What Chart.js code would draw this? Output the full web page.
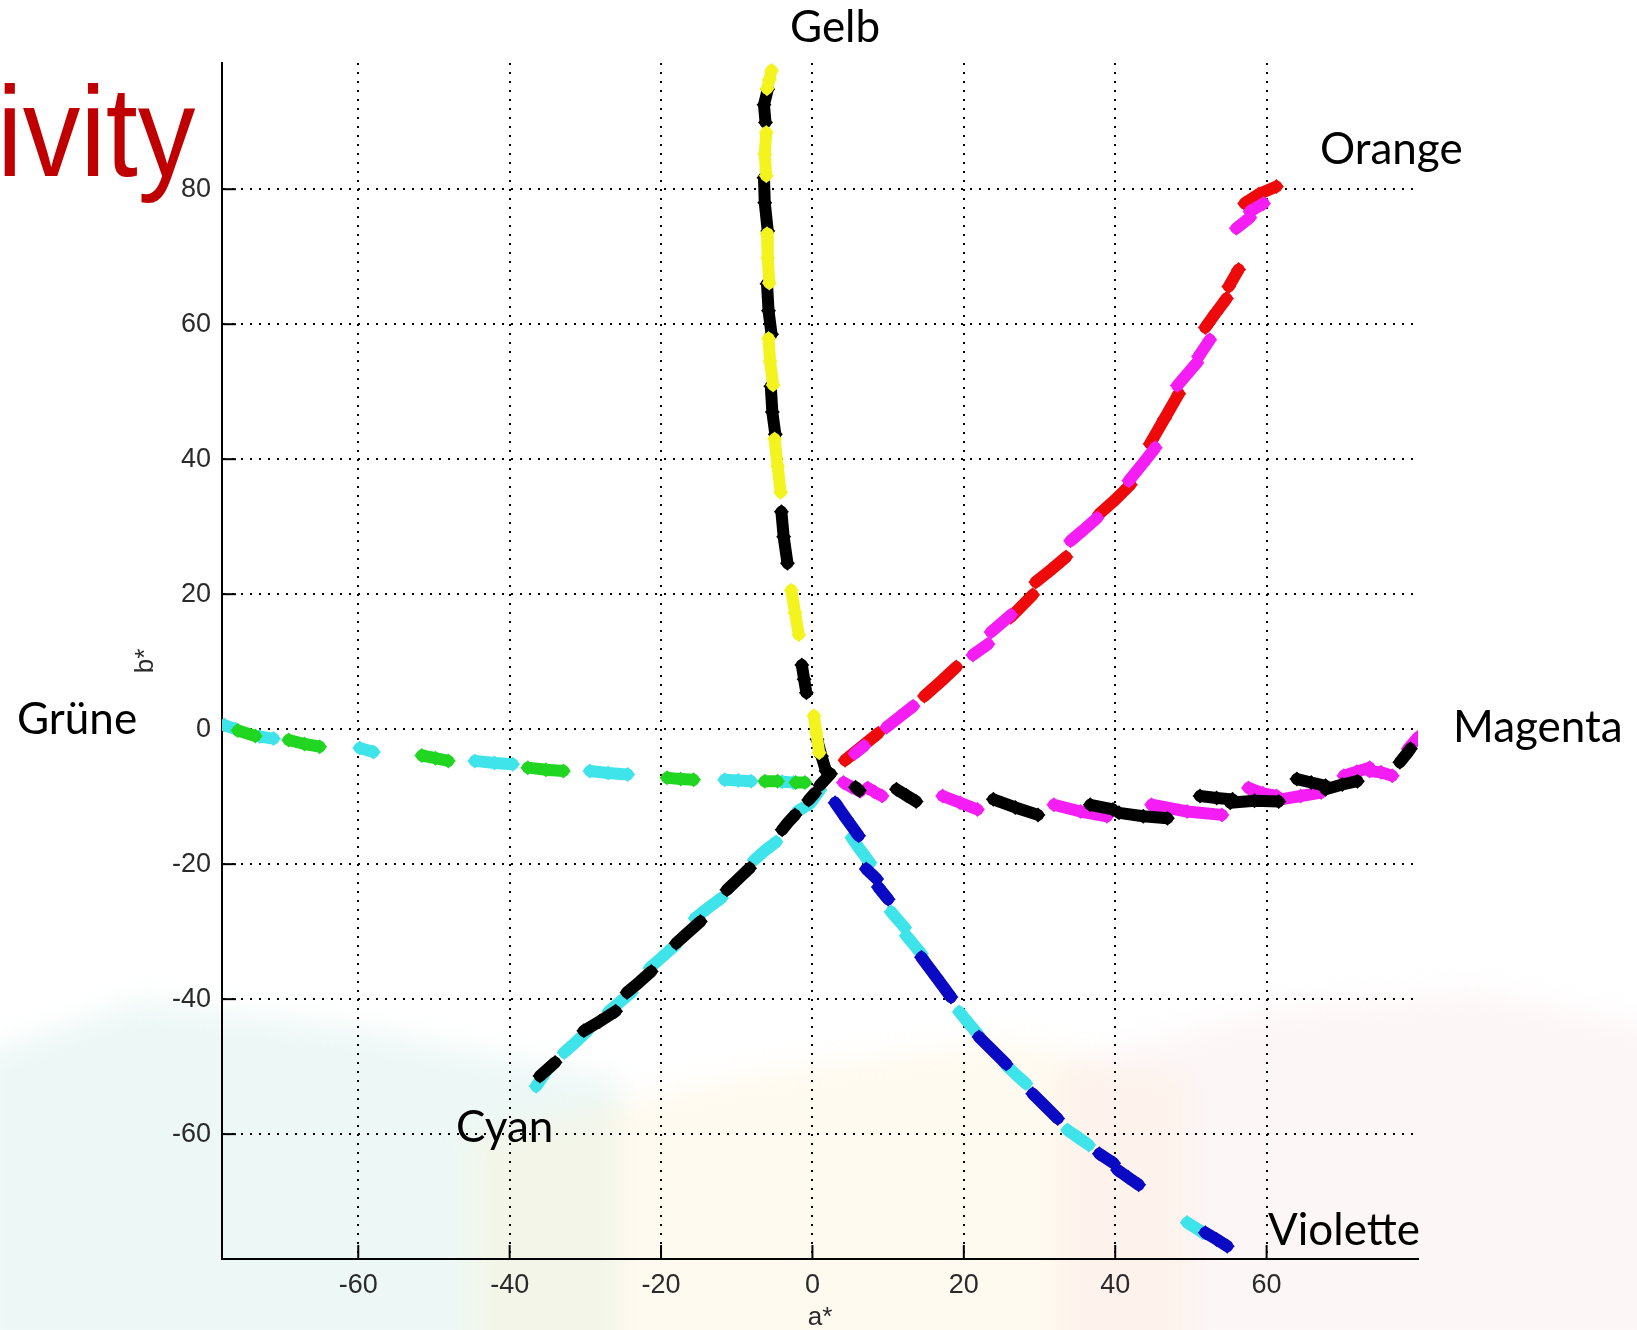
<!DOCTYPE html>
<html>
<head>
<meta charset="utf-8">
<script src="https://cdn.jsdelivr.net/npm/chart.js@4.4.1/dist/chart.umd.min.js"></script>
<style>
  html, body { margin: 0; padding: 0; background: #fff; }
  #page { position: relative; width: 1637px; height: 1330px; overflow: hidden; }
  #bgLayer { position: absolute; left: 0; top: 0; width: 1637px; height: 1330px; filter: blur(14px); }
  .bg { position: absolute; }
  #chartBox { position: absolute; left: 0; top: 0; width: 1637px; height: 1330px; }
  .lbl { position: absolute; font-family: Lato, "Open Sans", sans-serif; font-size: 44px; line-height: 1; color: #000; white-space: nowrap; }
  #title { position: absolute; right: 1442px; top: 68px; font-family: "Liberation Sans", sans-serif; font-size: 128px; line-height: 1; color: #c00000; white-space: nowrap; transform: scaleX(0.9); transform-origin: right center; }
</style>
</head>
<body>
<div id="page">
  <!-- blasse Hintergrundflächen unten -->
  <div id="bgLayer">
    <div class="bg" style="left:-20px;top:1000px;width:640px;height:360px;background:rgba(200,234,226,0.32);clip-path:polygon(0 15%,25% 0,60% 8%,100% 22%,100% 100%,0 100%);"></div>
    <div class="bg" style="left:470px;top:1040px;width:720px;height:320px;background:rgba(255,240,206,0.32);clip-path:polygon(0 30%,40% 10%,75% 0,100% 12%,100% 100%,0 100%);"></div>
    <div class="bg" style="left:1060px;top:990px;width:600px;height:370px;background:rgba(250,226,230,0.32);clip-path:polygon(0 20%,35% 5%,70% 0,100% 10%,100% 100%,0 100%);"></div>
  </div>
  <div id="chartBox"><canvas id="lab" width="1637" height="1330"></canvas></div>
  <div id="title">ivity</div>
  <div class="lbl" style="left:790px;top:3px;">Gelb</div>
  <div class="lbl" style="left:1320px;top:125px;">Orange</div>
  <div class="lbl" style="left:1453px;top:703px;">Magenta</div>
  <div class="lbl" style="left:17px;top:695px;">Grüne</div>
  <div class="lbl" style="left:456px;top:1103px;">Cyan</div>
  <div class="lbl" style="left:1268px;top:1206px;">Violette</div>
</div>
<script>
const xTickValues = [-60, -40, -20, 0, 20, 40, 60];
const yTickValues = [-60, -40, -20, 0, 20, 40, 60, 80];

// Gelb: gelb / schwarz
const gelbYellow = [
  [[-5.4, 97.6], [-5.7, 96.2], [-6.0, 94.9]],
  [[-6.1, 88.4], [-6.3, 85.2], [-6.1, 82.0]],
  [[-6.0, 73.4], [-5.9, 69.8], [-5.7, 66.1]],
  [[-5.8, 57.9], [-5.6, 54.5], [-5.2, 51.0]],
  [[-5.0, 43.0], [-4.6, 39.0], [-4.2, 35.1]],
  [[-2.8, 20.6], [-2.3, 17.3], [-1.8, 14.0]],
  [[0.2, 2.0], [0.5, -0.5], [0.9, -3.5]]
];
const gelbBlack = [
  [[-5.9, 94.8], [-6.4, 92.5], [-6.2, 89.9]],
  [[-6.4, 81.7], [-6.3, 78.0], [-5.9, 73.8]],
  [[-6.0, 66.0], [-5.8, 62.0], [-5.4, 58.5]],
  [[-5.5, 50.8], [-5.3, 47.0], [-4.9, 43.7]],
  [[-4.1, 32.2], [-3.8, 28.5], [-3.3, 24.6]],
  [[-1.4, 9.5], [-1.1, 7.4], [-0.8, 5.4]],
  [[0.6, -1.5], [1.2, -4.0], [1.8, -6.2]]
];

// Orange: rot / magenta
const orangeRed = [
  [[4.3, -4.6], [6.5, -2.6], [8.7, -0.6]],
  [[14.8, 4.9], [17.0, 7.1], [19.0, 9.2]],
  [[26.2, 16.6], [29.1, 19.9]],
  [[29.5, 21.8], [31.5, 23.6], [33.5, 25.5]],
  [[37.9, 31.9], [40.0, 34.0], [42.0, 36.2]],
  [[44.6, 42.3], [46.5, 46.0], [48.4, 49.7]],
  [[51.9, 59.5], [53.3, 61.7], [54.7, 63.8]],
  [[55.0, 65.6], [56.3, 68.1]],
  [[57.1, 77.9], [59.0, 79.3], [61.3, 80.4]]
];
const orangeMagenta = [
  [[5.6, -3.6], [6.8, -2.5]],
  [[9.8, 0.3], [11.6, 1.9], [13.3, 3.4]],
  [[21.2, 11.0], [23.2, 12.6]],
  [[23.6, 14.4], [26.2, 16.9]],
  [[34.1, 27.9], [35.9, 29.6], [37.6, 31.3]],
  [[41.8, 36.8], [43.6, 39.3], [45.3, 41.7]],
  [[48.2, 50.9], [50.8, 54.3]],
  [[51.0, 55.2], [52.5, 57.7]],
  [[56.0, 74.2], [57.8, 75.8]],
  [[57.8, 76.7], [59.6, 77.9]]
];

// Magenta: magenta / schwarz
const magentaMagenta = [
  [[4.1, -7.9], [5.2, -8.6], [6.3, -9.2]],
  [[7.3, -8.7], [8.2, -9.3], [9.2, -9.9]],
  [[17.2, -9.9], [19.5, -10.9], [21.8, -11.9]],
  [[31.9, -11.2], [35.4, -12.2], [38.9, -12.9]],
  [[44.8, -11.2], [49.5, -12.2], [54.1, -12.7]],
  [[57.6, -8.7], [59.5, -9.5], [61.3, -9.9]],
  [[61.9, -10.4], [64.5, -9.9], [67.2, -9.4]],
  [[70.2, -6.9], [71.9, -6.3], [73.6, -5.7]],
  [[73.6, -6.2], [75.1, -6.4], [76.6, -6.9]],
  [[78.7, -2.9], [79.4, -2.0], [80.0, -1.2]]
];
const magentaBlack = [
  [[5.7, -8.6], [6.2, -9.1]],
  [[11.1, -8.9], [12.4, -9.8], [13.7, -10.7]],
  [[23.9, -10.4], [26.8, -11.6], [29.8, -12.7]],
  [[36.7, -11.2], [39.7, -11.9]],
  [[40.5, -12.4], [43.7, -12.9], [46.9, -13.2]],
  [[51.2, -9.9], [53.4, -10.2], [55.5, -10.4]],
  [[55.2, -10.9], [58.4, -10.6], [61.6, -10.7]],
  [[64.0, -7.4], [65.9, -7.9], [67.8, -8.4]],
  [[67.8, -8.9], [70.0, -8.2], [72.0, -7.7]],
  [[77.6, -4.9], [78.4, -3.8], [79.0, -2.9]]
];

// Grüne: grün / cyan
const grueneGreen = [
  [[-75.9, -0.2], [-73.6, -1.0]],
  [[-69.2, -1.6], [-67.1, -2.2], [-65.1, -2.6]],
  [[-51.6, -3.9], [-49.8, -4.3], [-48.1, -4.7]],
  [[-37.6, -5.7], [-35.2, -6.0], [-32.9, -6.2]],
  [[-19.2, -7.2], [-17.4, -7.4], [-15.7, -7.5]],
  [[-6.3, -7.7], [-4.6, -7.7]],
  [[-2.2, -7.9], [-1.0, -7.9]]
];
const grueneCyan = [
  [[-77.7, 0.6], [-76.2, 0.0]],
  [[-73.0, -1.1], [-71.2, -1.4]],
  [[-59.8, -2.8], [-58.0, -3.4]],
  [[-44.6, -4.7], [-42.0, -5.0], [-39.6, -5.2]],
  [[-29.4, -6.2], [-27.0, -6.5], [-24.4, -6.7]],
  [[-11.6, -7.5], [-9.8, -7.6], [-8.1, -7.7]],
  [[-4.0, -7.8], [-2.5, -7.9]]
];

// Cyan: cyan / schwarz
const cyanCyan = [
  [[1.0, -9.0], [-0.3, -11.0], [-2.0, -12.2]],
  [[-4.8, -16.7], [-6.3, -18.0], [-7.7, -19.4]],
  [[-12.0, -25.0], [-13.8, -26.5], [-15.5, -28.0]],
  [[-18.0, -31.9], [-19.8, -33.7], [-21.5, -35.4]],
  [[-23.9, -39.0], [-25.4, -40.4], [-26.9, -41.8]],
  [[-29.7, -44.7], [-31.2, -46.3], [-32.8, -47.9]],
  [[-35.4, -51.1], [-36.5, -52.9]]
];
const cyanBlack = [
  [[2.4, -6.6], [1.0, -8.3]],
  [[0.3, -9.5], [-0.5, -10.5]],
  [[-2.3, -12.7], [-3.2, -13.8], [-4.0, -14.9]],
  [[-8.3, -20.6], [-9.8, -22.2], [-11.3, -23.8]],
  [[-14.8, -28.5], [-16.4, -30.1], [-18.0, -31.7]],
  [[-21.3, -35.9], [-22.9, -37.5], [-24.5, -39.0]],
  [[-26.0, -41.8], [-28.1, -43.3], [-30.2, -44.7]],
  [[-34.0, -49.4], [-35.0, -50.4], [-36.0, -51.4]]
];

// Violette: blau / cyan
const violetteBlue = [
  [[3.0, -10.9], [4.5, -13.3], [6.1, -15.8]],
  [[7.1, -20.7], [8.5, -22.2]],
  [[8.7, -23.4], [10.0, -25.2]],
  [[14.4, -33.8], [16.4, -36.8], [18.3, -39.7]],
  [[22.0, -45.6], [23.8, -47.6], [25.6, -49.6]],
  [[29.1, -54.0], [30.8, -55.9], [32.4, -57.7]],
  [[37.9, -62.9], [39.8, -64.3]],
  [[40.3, -65.3], [41.7, -66.4], [43.1, -67.5]],
  [[51.9, -74.6], [53.4, -75.6], [54.8, -76.6]]
];
const violetteCyan = [
  [[5.2, -16.1], [6.4, -18.0], [7.6, -19.8]],
  [[10.4, -27.1], [12.2, -29.4]],
  [[12.4, -30.6], [14.4, -33.3]],
  [[19.4, -41.9], [20.6, -43.5], [21.8, -45.1]],
  [[25.6, -49.8], [26.9, -51.2], [28.2, -52.5]],
  [[33.7, -59.4], [35.1, -60.5], [36.5, -61.6]],
  [[49.5, -73.1], [51.6, -74.6]]
];

// Reihenfolge und Farben der Serien
const seriesList = [
  { clusters: grueneGreen, color: '#20d620' },
  { clusters: grueneCyan, color: '#3fe4ea' },
  { clusters: cyanBlack, color: '#000000' },
  { clusters: cyanCyan, color: '#3fe4ea' },
  { clusters: violetteBlue, color: '#0a0ac4' },
  { clusters: violetteCyan, color: '#3fe4ea' },
  { clusters: magentaBlack, color: '#000000' },
  { clusters: magentaMagenta, color: '#f41ef4' },
  { clusters: orangeMagenta, color: '#f41ef4' },
  { clusters: orangeRed, color: '#ee0a0a' },
  { clusters: gelbYellow, color: '#f3f31e' },
  { clusters: gelbBlack, color: '#000000' }
];

function toPoints(clusters) {
  const pts = [];
  clusters.forEach(function(c) {
    c.forEach(function(p) { pts.push({ x: p[0], y: p[1] }); });
    pts.push({ x: null, y: null }); // Lücke zwischen den Gruppen
  });
  return pts;
}

const datasets = seriesList.map(function(s) {
  return {
    data: toPoints(s.clusters),
    borderColor: s.color,
    backgroundColor: s.color,
    showLine: true,
    spanGaps: false,
    borderWidth: 12,
    borderCapStyle: 'round',
    borderJoinStyle: 'round',
    pointStyle: 'rectRot',
    pointRadius: 7.5,
    pointBorderWidth: 0,
    pointHoverRadius: 7.5
  };
});

// kurze Teilstriche innerhalb der Achsen (wie MATLAB)
const innerTicks = {
  id: 'innerTicks',
  beforeDatasetsDraw(chart) {
    const { ctx, chartArea, scales } = chart;
    ctx.save();
    ctx.strokeStyle = '#000';
    ctx.lineWidth = 2;
    scales.x.ticks.forEach(function(t) {
      const px = scales.x.getPixelForValue(t.value);
      ctx.beginPath();
      ctx.moveTo(px, chartArea.bottom);
      ctx.lineTo(px, chartArea.bottom - 14);
      ctx.stroke();
    });
    scales.y.ticks.forEach(function(t) {
      const py = scales.y.getPixelForValue(t.value);
      ctx.beginPath();
      ctx.moveTo(chartArea.left, py);
      ctx.lineTo(chartArea.left + 14, py);
      ctx.stroke();
    });
    ctx.restore();
  }
};

const tickFont = { family: 'Liberation Sans, Arial, sans-serif', size: 27 };

new Chart(document.getElementById('lab').getContext('2d'), {
  type: 'scatter',
  data: { datasets: datasets },
  plugins: [innerTicks],
  options: {
    responsive: false,
    animation: false,
    devicePixelRatio: 1,
    layout: { padding: { left: 120, top: 63, right: 219, bottom: 0 } },
    plugins: { legend: { display: false }, tooltip: { enabled: false } },
    scales: {
      x: {
        type: 'linear',
        min: -78,
        max: 80,
        afterBuildTicks: function(scale) { scale.ticks = xTickValues.map(v => ({ value: v })); },
        afterFit: function(scale) { scale.height = 71; },
        grid: { color: '#000', lineWidth: 2, drawTicks: false },
        border: { display: true, color: '#000', width: 2, dash: [2, 7] },
        ticks: { color: '#2a2a2a', font: tickFont, padding: 10, maxRotation: 0 },
        title: { display: true, text: 'a*', color: '#2a2a2a', font: { family: 'Liberation Sans, Arial, sans-serif', size: 26, lineHeight: 1 }, padding: { top: 0, bottom: -1 } }
      },
      y: {
        type: 'linear',
        min: -78.5,
        max: 98.7,
        afterBuildTicks: function(scale) { scale.ticks = yTickValues.map(v => ({ value: v })); },
        afterFit: function(scale) { scale.width = 102; },
        grid: { color: '#000', lineWidth: 2, drawTicks: false },
        border: { display: true, color: '#000', width: 2, dash: [2, 7] },
        ticks: { color: '#2a2a2a', font: tickFont, padding: 11 },
        title: { display: true, text: 'b*', color: '#2a2a2a', font: { family: 'Liberation Sans, Arial, sans-serif', size: 26, lineHeight: 1 }, padding: { top: 13, bottom: 0 } }
      }
    }
  }
});
</script>
</body>
</html>
